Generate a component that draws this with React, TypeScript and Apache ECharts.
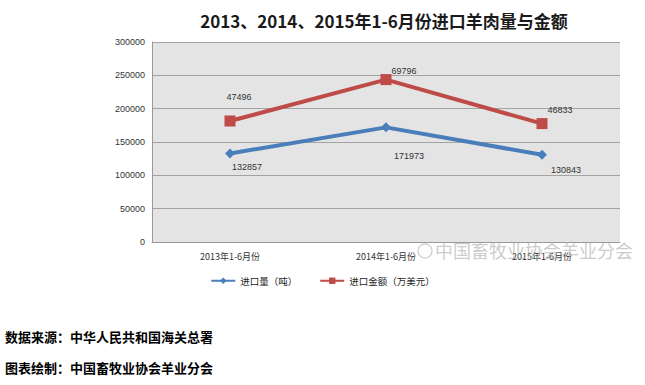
import React, { useEffect, useRef } from "react";
import * as echarts from "echarts";

const categories = ["2013年1-6月份", "2014年1-6月份", "2015年1-6月份"];
const volumeValues = [132857, 171973, 130843];
const amountPlotted = [181500, 243600, 177600];
const amountLabels = [47496, 69796, 46833];
const yTicks = { min: 0, max: 300000, interval: 50000 };

const titleText = "2013、2014、2015年1-6月份进口羊肉量与金额";
const sourceText = "数据来源：中华人民共和国海关总署";
const makerText = "图表绘制：中国畜牧业协会羊业分会";
const watermarkText = "中国畜牧业协会羊业分会";

const volumeLabelOffsets = [[17, 14], [23, 29], [24, 15]];
const amountLabelOffsets = [[9, -24], [18, -9], [18, -14]];

export default function App() {
  const ref = useRef<HTMLDivElement>(null);
  useEffect(() => {
    if (!ref.current) return;
    const chart = echarts.init(ref.current, null, { renderer: "svg" });
    const font = "'Liberation Sans', Arial, 'Noto Sans CJK SC', sans-serif";
    const cjk = "'Noto Sans CJK SC', 'Liberation Sans', sans-serif";
    chart.setOption({
      animation: false,
      backgroundColor: "#ffffff",
      textStyle: { fontFamily: font },
      title: {
        text: titleText,
        left: 379,
        top: 7,
        textAlign: "center",
        textStyle: { fontFamily: cjk, fontSize: 17, fontWeight: "bold", color: "#1a1a1a" },
      },
      grid: {
        left: 152,
        right: 25,
        top: 42,
        bottom: 143,
        show: true,
        backgroundColor: "#e4e4e4",
        borderWidth: 0,
      },
      legend: {
        left: "center",
        top: 271,
        itemWidth: 24,
        itemHeight: 8,
        itemGap: 22,
        textStyle: { fontFamily: cjk, fontSize: 9.5, color: "#222" },
        data: ["进口量（吨）", "进口金额（万美元）"],
      },
      xAxis: {
        type: "category",
        data: categories,
        boundaryGap: true,
        axisLine: { lineStyle: { color: "#9a9a9a", width: 1 } },
        axisTick: { show: false },
        axisLabel: { fontFamily: cjk, fontSize: 9, color: "#333", margin: 10 },
      },
      yAxis: {
        type: "value",
        min: yTicks.min,
        max: yTicks.max,
        interval: yTicks.interval,
        axisLine: { show: true, lineStyle: { color: "#9a9a9a", width: 1 } },
        axisTick: { show: false },
        axisLabel: { fontSize: 9, color: "#333", margin: 7, formatter: (v: number) => String(v) },
        splitLine: { lineStyle: { color: "#a3a3a3", width: 1 } },
      },
      series: [
        {
          name: "进口量（吨）",
          type: "line",
          data: volumeValues.map((v, i) => ({
            value: v,
            label: { offset: volumeLabelOffsets[i] },
          })),
          symbol: "diamond",
          symbolSize: 10,
          lineStyle: { color: "#4a7ebb", width: 4 },
          itemStyle: { color: "#4a7ebb" },
          label: {
            show: true,
            position: "inside",
            fontSize: 9,
            color: "#333",
          },
          z: 3,
        },
        {
          name: "进口金额（万美元）",
          type: "line",
          data: amountPlotted.map((v, i) => ({
            value: v,
            label: { offset: amountLabelOffsets[i] },
          })),
          symbol: "rect",
          symbolSize: 11,
          lineStyle: { color: "#be4b48", width: 4 },
          itemStyle: { color: "#be4b48" },
          label: {
            show: true,
            position: "inside",
            fontSize: 9,
            color: "#333",
            formatter: (p: any) => String(amountLabels[p.dataIndex]),
          },
          z: 4,
        },
      ],
      graphic: [
        {
          type: "text",
          left: 435,
          top: 241,
          silent: true,
          style: {
            text: watermarkText,
            font: "18px 'Noto Sans CJK SC', sans-serif",
            fill: "rgba(170,170,170,0.6)",
          },
          z: 10,
        },
        {
          type: "circle",
          shape: { cx: 425, cy: 251, r: 7 },
          style: { fill: "none", stroke: "rgba(170,170,170,0.6)", lineWidth: 1.2 },
          z: 10,
        },
        {
          type: "text",
          left: 5,
          top: 330,
          style: {
            text: sourceText,
            font: "bold 13px 'Noto Sans CJK SC', sans-serif",
            fill: "#000",
          },
        },
        {
          type: "text",
          left: 5,
          top: 361,
          style: {
            text: makerText,
            font: "bold 13px 'Noto Sans CJK SC', sans-serif",
            fill: "#000",
          },
        },
      ],
    });
    return () => chart.dispose();
  }, []);
  return (
    <div
      ref={ref}
      style={{ position: "absolute", left: 0, top: 0, width: 645, height: 385 }}
    />
  );
}
